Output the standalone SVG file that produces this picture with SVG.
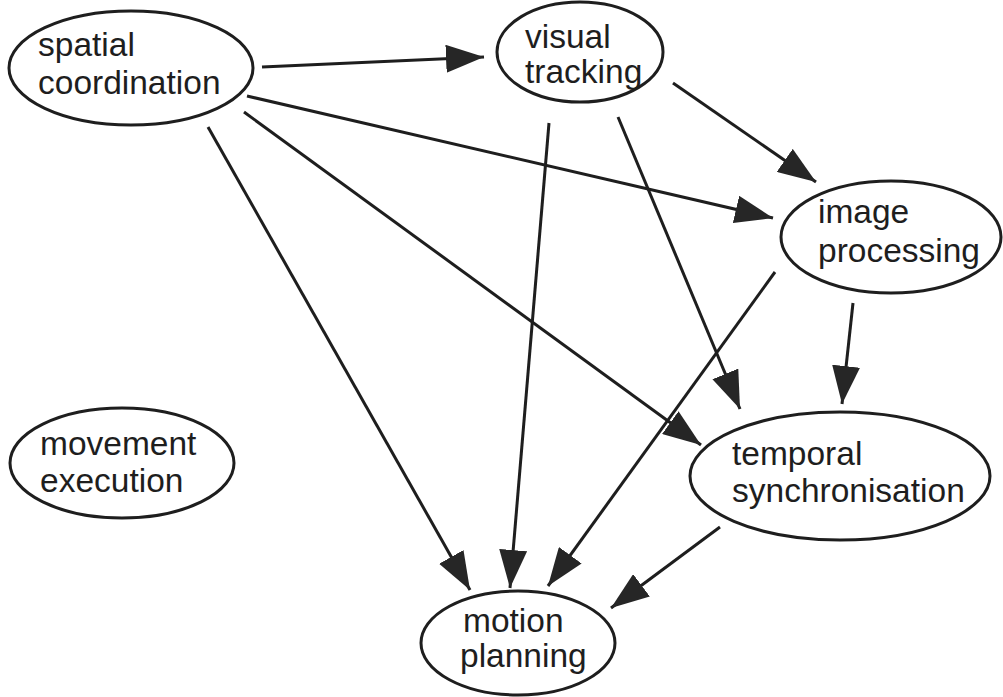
<svg xmlns="http://www.w3.org/2000/svg" width="1003" height="697" viewBox="0 0 1003 697">
<style>
.node ellipse{fill:#fff;stroke:#1e1e1e;stroke-width:3}
.node text{font-family:"Liberation Sans",Arial,sans-serif;font-size:33.5px;fill:#1e1e1e}
.edges line{stroke:#1e1e1e;stroke-width:3;marker-end:url(#arrow)}
</style>
<defs>
<marker id="arrow" viewBox="0 0 38 28" refX="38" refY="14" markerWidth="38" markerHeight="28" markerUnits="userSpaceOnUse" orient="auto">
<path d="M0,0 L38,14 L0,28 z" fill="#262626"/>
</marker>
</defs>
<rect width="1003" height="697" fill="#fff"/>
<g class="edges">
<line x1="262" y1="67" x2="484" y2="57"/>
<line x1="247" y1="96" x2="773" y2="218"/>
<line x1="244" y1="112" x2="701" y2="445"/>
<line x1="208" y1="127" x2="470" y2="590"/>
<line x1="673" y1="83" x2="816" y2="182"/>
<line x1="618" y1="117" x2="740" y2="409"/>
<line x1="549" y1="123" x2="510" y2="588"/>
<line x1="775" y1="272" x2="548" y2="586"/>
<line x1="853" y1="303" x2="842" y2="404"/>
<line x1="720" y1="527" x2="611" y2="608"/>
</g>
<g id="spatial-coordination" class="node">
<ellipse cx="131" cy="68" rx="122" ry="57"/>
<text x="38" y="56">spatial</text>
<text x="38" y="94">coordination</text>
</g>
<g id="visual-tracking" class="node">
<ellipse cx="580" cy="52" rx="83" ry="50"/>
<text x="525" y="48">visual</text>
<text x="525" y="83">tracking</text>
</g>
<g id="image-processing" class="node">
<ellipse cx="891" cy="237" rx="110" ry="56"/>
<text x="818" y="223">image</text>
<text x="818" y="262">processing</text>
</g>
<g id="temporal-synchronisation" class="node">
<ellipse cx="840" cy="476" rx="150" ry="64"/>
<text x="732" y="465">temporal</text>
<text x="732" y="502">synchronisation</text>
</g>
<g id="movement-execution" class="node">
<ellipse cx="122" cy="463" rx="112" ry="55"/>
<text x="40" y="455">movement</text>
<text x="40" y="492">execution</text>
</g>
<g id="motion-planning" class="node">
<ellipse cx="518" cy="643" rx="97" ry="52"/>
<text x="463" y="632">motion</text>
<text x="460" y="667">planning</text>
</g>
</svg>
